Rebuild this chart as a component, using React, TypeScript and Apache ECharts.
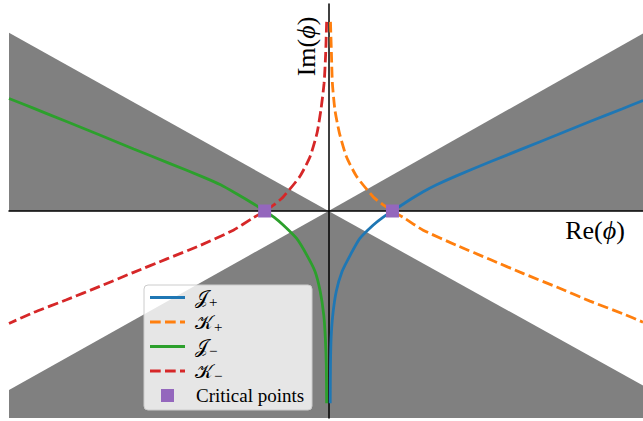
import React, { useEffect, useRef } from "react";
import * as echarts from "echarts";

// Axis window (data units)
const X_MIN = -5;
const X_MAX = 4.92;
const Y_MIN = -3.24;
const Y_MAX = 3.24;

// Shaded wedges (vertices in data units)
const upperLeftWedge = [[-5, 0], [-5, 2.79], [0, 0]];
const upperRightWedge = [[0, 0], [4.92, 2.78], [4.92, 0]];
const lowerWedge = [[-5, -3.24], [-5, -2.8], [0, 0], [4.92, -2.73], [4.92, -3.24]];
const wedges = [upperLeftWedge, upperRightWedge, lowerWedge];

// Thimble J+ (through +1)
const jPlus = [
  [4.92, 1.73], [4.6, 1.6], [4.09, 1.4], [3.57, 1.19], [3.05, 0.98], [2.53, 0.77],
  [2.0, 0.55], [1.69, 0.41], [1.48, 0.3], [1.2, 0.13], [1.0, 0],
  [0.85, -0.1], [0.7, -0.22], [0.49, -0.43], [0.34, -0.69], [0.21, -0.95],
  [0.12, -1.26], [0.066, -1.63], [0.04, -1.99], [0.03, -2.41], [0.026, -3.01],
];

// Anti-thimble K+ (through +1)
const kPlus = [
  [0.03, 2.96], [0.045, 2.47], [0.06, 2.0], [0.1, 1.58], [0.17, 1.22], [0.28, 0.85],
  [0.44, 0.54], [0.7, 0.22], [0.85, 0.1], [1.0, 0], [1.2, -0.12], [1.48, -0.3],
  [2.01, -0.54], [2.53, -0.76], [3.05, -0.98], [3.57, -1.19], [4.09, -1.41],
  [4.61, -1.61], [4.92, -1.74],
];

// Thimble J- (through -1)
const jMinus = [
  [-5, 1.76], [-4.62, 1.61], [-4.1, 1.4], [-3.58, 1.19], [-3.05, 0.97], [-2.5, 0.75],
  [-1.96, 0.53], [-1.69, 0.41], [-1.44, 0.27], [-1.17, 0.11], [-1.0, 0],
  [-0.85, -0.1], [-0.71, -0.22], [-0.5, -0.43], [-0.34, -0.69], [-0.21, -0.95],
  [-0.13, -1.26], [-0.075, -1.63], [-0.05, -1.99], [-0.035, -2.41], [-0.03, -3.01],
];

// Anti-thimble K- (through -1)
const kMinus = [
  [-0.03, 2.96], [-0.045, 2.47], [-0.07, 2.0], [-0.12, 1.58], [-0.18, 1.22],
  [-0.29, 0.85], [-0.45, 0.54], [-0.71, 0.22], [-0.85, 0.1], [-1.0, 0], [-1.2, -0.12],
  [-1.49, -0.3], [-2.01, -0.54], [-2.53, -0.75], [-3.05, -0.96], [-3.58, -1.18],
  [-4.1, -1.39], [-4.62, -1.59], [-5, -1.76],
];

const criticalPoints = [[1, 0], [-1, 0]];

// Legend labels: script letter + subscript sign
const curveLetters = ["𝒥", "𝒦", "𝒥", "𝒦"];
const curveSigns = ["+", "+", "−", "−"];
const curveNames = ["J+", "K+", "J-", "K-"];
const criticalName = "Critical points";
const curveColors = ["#1f77b4", "#ff7f0e", "#2ca02c", "#d62728"];
const curveDashed = [false, true, false, true];
const curves = [jPlus, kPlus, jMinus, kMinus];

const SERIF = "'Liberation Serif', 'DejaVu Serif', serif";
const LINE_W = 2.8;
const DASH = [10.7, 4.3];
const LEGEND_Z = 100;

function buildLegend() {
  const rowY = [12.5, 37, 61.5, 86, 110.5];
  const ox = 144;
  const oy = 285;
  const els: any[] = [
    {
      type: "rect",
      z: LEGEND_Z,
      shape: { x: ox, y: oy, width: 168, height: 125, r: 4 },
      style: { fill: "rgba(255,255,255,0.8)", stroke: "#cccccc", lineWidth: 1 },
    },
  ];
  curveLetters.forEach((letter, i) => {
    els.push({
      type: "line",
      z: LEGEND_Z + 1,
      shape: { x1: ox + 6, y1: oy + rowY[i], x2: ox + 41, y2: oy + rowY[i] },
      style: {
        stroke: curveColors[i],
        lineWidth: LINE_W,
        lineDash: curveDashed[i] ? DASH : null,
      },
    });
    els.push({
      type: "text",
      z: LEGEND_Z + 1,
      x: ox + 51,
      y: oy + rowY[i],
      style: {
        text: `{m|${letter}}{s|${curveSigns[i]}}`,
        rich: {
          m: { fontFamily: SERIF, fontSize: 19, lineHeight: 24, fill: "#000" },
          s: {
            fontFamily: SERIF,
            fontSize: 15,
            lineHeight: 12,
            verticalAlign: "bottom",
            padding: [0, 0, 0, 1],
            fill: "#000",
          },
        },
        verticalAlign: "middle",
        align: "left",
      },
    });
  });
  els.push({
    type: "rect",
    z: LEGEND_Z + 1,
    shape: { x: ox + 17, y: oy + rowY[4] - 6.5, width: 13, height: 13 },
    style: { fill: "#9467bd" },
  });
  els.push({
    type: "text",
    z: LEGEND_Z + 1,
    x: ox + 52,
    y: oy + rowY[4],
    style: {
      text: criticalName,
      fill: "#000",
      font: `19px ${SERIF}`,
      verticalAlign: "middle",
      align: "left",
    },
  });
  return els;
}

export default function App() {
  const ref = useRef<HTMLDivElement>(null);

  useEffect(() => {
    if (!ref.current) return;
    const chart = echarts.init(ref.current, null, { renderer: "svg" });

    const axisCommon = {
      type: "value",
      axisLine: { show: true, onZero: true, lineStyle: { color: "#000", width: 1.5 } },
      axisTick: { show: false },
      axisLabel: { show: false },
      splitLine: { show: false },
      z: 1.5,
    };

    const lineSeries = curves.map((pts, i) => ({
      type: "line",
      name: curveNames[i],
      data: pts,
      showSymbol: false,
      symbol: "none",
      smooth: 0.2,
      z: 2,
      lineStyle: {
        color: curveColors[i],
        width: LINE_W,
        type: curveDashed[i] ? DASH : "solid",
        cap: "butt",
      },
      silent: true,
    }));

    const richRe = {
      t: { fontFamily: "'Liberation Serif', serif", fontSize: 26, fill: "#000" },
      p: { fontFamily: "'Liberation Serif', serif", fontSize: 26, fontStyle: "italic", fill: "#000" },
    };

    chart.setOption({
      animation: false,
      backgroundColor: "#ffffff",
      grid: { left: 9, right: 0, top: 4, bottom: 3, containLabel: false },
      xAxis: { ...axisCommon, min: X_MIN, max: X_MAX },
      yAxis: { ...axisCommon, min: Y_MIN, max: Y_MAX },
      series: [
        {
          type: "custom",
          name: "wedges",
          silent: true,
          z: 1,
          data: wedges.map((_, i) => [i, 0]),
          encode: { x: 0, y: 1 },
          renderItem: (params: any, api: any) => {
            const pts = wedges[params.dataIndex].map((p) => api.coord(p));
            return {
              type: "polygon",
              shape: { points: pts },
              style: { fill: "#808080", stroke: "none" },
            };
          },
        },
        ...lineSeries,
        {
          type: "scatter",
          name: criticalName,
          data: criticalPoints,
          symbol: "rect",
          symbolSize: 13,
          itemStyle: { color: "#9467bd", opacity: 1 },
          z: 3,
          silent: true,
        },
      ],
      graphic: [
        {
          type: "text",
          x: 306.5,
          y: 46.5,
          rotation: Math.PI / 2,
          z: 50,
          style: {
            text: "{t|Im(}{p|ϕ}{t|)}",
            rich: richRe,
            align: "center",
            verticalAlign: "middle",
            fill: "#000",
          },
        },
        {
          type: "text",
          x: 595,
          y: 230,
          z: 50,
          style: {
            text: "{t|Re(}{p|ϕ}{t|)}",
            rich: richRe,
            align: "center",
            verticalAlign: "middle",
            fill: "#000",
          },
        },
        ...buildLegend(),
      ],
    });

    return () => chart.dispose();
  }, []);

  return (
    <div
      ref={ref}
      style={{ position: "fixed", left: 0, top: 0, width: 643, height: 421, background: "#fff" }}
    />
  );
}
